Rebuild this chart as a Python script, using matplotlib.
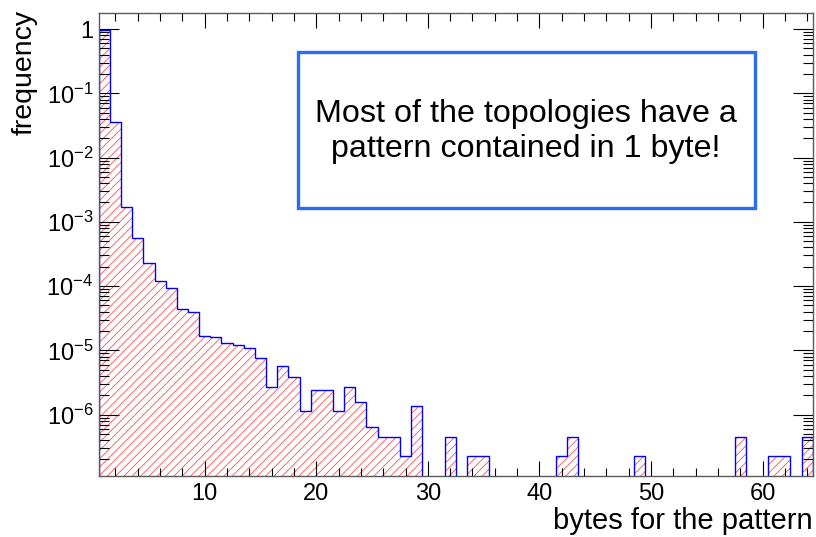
import numpy as np
import matplotlib
matplotlib.use("Agg")
import matplotlib.pyplot as plt
from matplotlib.patches import Rectangle
from matplotlib.ticker import FixedLocator, LogLocator, MultipleLocator, NullFormatter

plt.rcParams['font.family'] = ['Liberation Sans', 'DejaVu Sans']
plt.rcParams['mathtext.fontset'] = 'custom'
plt.rcParams['mathtext.rm'] = 'Liberation Sans'
plt.rcParams['mathtext.it'] = 'Liberation Sans:italic'
plt.rcParams['hatch.linewidth'] = 0.6

# pattern size in bytes (1..64) and the fraction of topologies using it
n_bytes = np.arange(1, 65)
frequency = [
    0.962, 3.56e-2, 1.73e-3, 5.55e-4, 2.26e-4, 1.21e-4, 9.4e-5, 4.4e-5,
    3.95e-5, 1.65e-5, 1.61e-5, 1.31e-5, 1.19e-5, 1.1e-5, 7.6e-6, 2.65e-6,
    5.8e-6, 3.84e-6, 1.12e-6, 2.43e-6, 2.43e-6, 1.12e-6, 2.65e-6, 1.58e-6,
    6.5e-7, 4.5e-7, 4.5e-7, 2.26e-7, 1.34e-6, 0, 0, 4.5e-7,
    0, 2.26e-7, 2.26e-7, 0, 0, 0, 0, 0,
    0, 2.26e-7, 4.5e-7, 0, 0, 0, 0, 0,
    2.26e-7, 0, 0, 0, 0, 0, 0, 0,
    0, 4.5e-7, 0, 0, 2.26e-7, 2.26e-7, 0, 4.5e-7,
]

y_ticks = [1, 1e-1, 1e-2, 1e-3, 1e-4, 1e-5, 1e-6]
y_tick_labels = ['1', r'$\mathregular{10^{-1}}$', r'$\mathregular{10^{-2}}$',
                 r'$\mathregular{10^{-3}}$', r'$\mathregular{10^{-4}}$',
                 r'$\mathregular{10^{-5}}$', r'$\mathregular{10^{-6}}$']

note = "Most of the topologies have a\npattern contained in 1 byte!"

edges = np.append(n_bytes - 0.5, n_bytes[-1] + 0.5)
ymin, ymax = 1.12e-7, 1.8
floor = 1e-9
vals = np.where(np.array(frequency) > 0, frequency, floor)

fig = plt.figure(figsize=(8.16, 5.37), dpi=100)
ax = fig.add_axes([0.121, 0.1142, 0.875, 0.8622])
ax.set_yscale('log')

# hatched fill, then the blue outline on top
ax.stairs(vals, edges, baseline=floor, fill=True, facecolor='white',
          edgecolor='#ff5050', linewidth=0, hatch='////')
ax.stairs(vals, edges, baseline=floor, color='#0000ff', linewidth=1.0)

ax.set_xlim(edges[0], edges[-1])
ax.set_ylim(ymin, ymax)

ax.xaxis.set_major_locator(MultipleLocator(10))
ax.xaxis.set_minor_locator(MultipleLocator(2))
ax.yaxis.set_major_locator(FixedLocator(y_ticks))
ax.set_yticklabels(y_tick_labels)
ax.yaxis.set_minor_locator(LogLocator(base=10, subs=np.arange(2, 10)))
ax.yaxis.set_minor_formatter(NullFormatter())

for s in ax.spines.values():
    s.set_color('#5a5a5a')
    s.set_linewidth(1.0)

ax.tick_params(axis='both', which='both', direction='in', top=True, right=True,
               width=0.8, color='black')
ax.tick_params(axis='x', which='major', length=11, labelsize=17, pad=5)
ax.tick_params(axis='x', which='minor', length=6)
ax.tick_params(axis='y', which='major', length=14.5, labelsize=17, pad=4)
ax.tick_params(axis='y', which='minor', length=7)

ax.set_xlabel('bytes for the pattern', fontsize=21, loc='right', labelpad=2)
ax.set_ylabel('frequency', fontsize=20.5, loc='top')
ax.yaxis.set_label_coords(-0.085, 1.006)

ax.add_patch(Rectangle((0.2784, 0.5775), 0.6401, 0.337, transform=ax.transAxes,
                       facecolor='white', edgecolor='#2b6cf6', linewidth=2.4,
                       zorder=5))
ax.text(0.598, 0.744, note, transform=ax.transAxes, ha='center', va='center',
        fontsize=23.2, linespacing=1.2, zorder=6)

fig.savefig('out.png', dpi=100)
